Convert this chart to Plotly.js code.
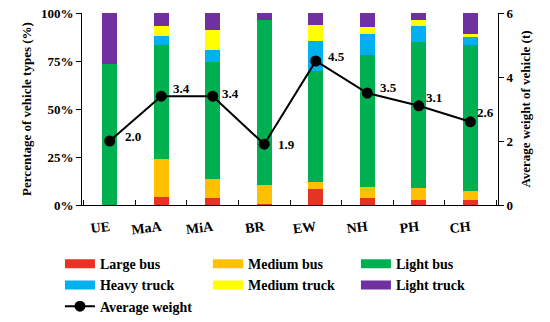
<!DOCTYPE html>
<html><head><meta charset="utf-8">
<script src="https://cdn.plot.ly/plotly-3.0.1.min.js"></script>
<style>html,body{margin:0;padding:0;background:#fff}#c{width:550px;height:322px}</style>
</head><body><div id="c"></div>
<script>
const categories = ['UE','MaA','MiA','BR','EW','NH','PH','CH'];
const largeBus    = [0.0, 4.2, 3.5, 0.7, 8.3, 3.5, 2.4, 2.4];
const mediumBus   = [0.0,19.8,10.1, 9.7, 3.5, 6.1, 6.6, 4.9];
const lightBus    = [73.4,59.1,60.8,86.1,57.8,68.3,75.7,76.2];
const heavyTruck  = [0.0, 4.7, 6.3, 0.0,15.6,11.1, 8.3, 4.0];
const mediumTruck = [0.0, 5.2,10.3, 0.0, 8.7, 3.5, 3.2, 1.7];
const lightTruck  = [26.6, 7.0, 9.0, 3.5, 6.1, 7.5, 3.8,10.8];
const avgWeight   = [2.0, 3.4, 3.4, 1.9, 4.5, 3.5, 3.1, 2.6];
const seriesNames = ['Large bus','Medium bus','Light bus','Heavy truck','Medium truck','Light truck'];
const pctTicks    = [0, 25, 50, 75, 100];
const pctTickText = ['0%','25%','50%','75%','100%'];
const wTicks      = [0, 2, 4, 6];
const seriesVals  = [largeBus, mediumBus, lightBus, heavyTruck, mediumTruck, lightTruck];
const colors = ['#E63323','#FFC000','#00B050','#00B0F0','#FFFF00','#7030A0'];
const labelShift = [[23,5],[20,8],[18,3],[22,0],[21,5],[21,6],[15,8],[15,9]];

const FONT = 'Liberation Serif, Times New Roman, serif';
const traces = [];
seriesVals.forEach((v,i)=>{
  traces.push({type:'bar', x:categories, y:v, name:seriesNames[i], marker:{color:colors[i], line:{width:0}},
    showlegend:false, hoverinfo:'skip'});
});
seriesVals.forEach((v,i)=>{
  traces.push({type:'scatter', mode:'lines', x:[null], y:[null], name:seriesNames[i],
    line:{color:colors[i], width:9}, showlegend:true});
});
traces.push({type:'scatter', mode:'lines+markers', x:categories, y:avgWeight, yaxis:'y2', name:'Average weight',
  line:{color:'#000', width:2}, marker:{color:'#000', size:11}});

const annotations = categories.map((c,i)=>({
  x:c, y:avgWeight[i], xref:'x', yref:'y2', text:avgWeight[i].toFixed(1), showarrow:false,
  xshift:labelShift[i][0], yshift:labelShift[i][1],
  font:{family:FONT, size:13, color:'#000', weight:'bold'}
}));

const layout = {
  width:550, height:322, margin:{l:82, r:52, t:13, b:117, autoexpand:false},
  paper_bgcolor:'#fff', plot_bgcolor:'#fff',
  barmode:'stack', bargap:0.71,
  font:{family:FONT, size:13, color:'#000', weight:'bold'},
  xaxis:{type:'category', showline:true, linecolor:'#000', linewidth:1, ticks:'inside', ticklen:5,
    tickson:'boundaries', tickcolor:'#000', tickangle:-7, tickfont:{size:14, family:FONT, weight:'bold'},
    ticklabelstandoff:8, showgrid:false, zeroline:false},
  yaxis:{range:[0,100], tickmode:'array', tickvals:pctTicks, ticktext:pctTickText, showline:true, linecolor:'#000', linewidth:1,
    ticks:'outside', ticklen:5, tickcolor:'#000', showgrid:false, zeroline:false,
    title:{text:'Percentage of vehicle types (%)', font:{family:FONT, size:13, weight:'bold'}, standoff:6},
    tickfont:{size:13, family:FONT, weight:'bold'}},
  yaxis2:{overlaying:'y', side:'right', range:[0,6], tickmode:'array', tickvals:wTicks, showline:true, linecolor:'#000', linewidth:1,
    ticks:'outside', ticklen:5, tickcolor:'#000', showgrid:false, zeroline:false,
    title:{text:'Average weight of vehicle (t)', font:{family:FONT, size:13, weight:'bold'}, standoff:8},
    tickfont:{size:13, family:FONT, weight:'bold'}},
  legend:{orientation:'h', traceorder:'normal', x:-0.053, xanchor:'left', y:-0.225, yanchor:'top', entrywidth:103,
    font:{family:FONT, size:14, weight:'bold'}, bgcolor:'rgba(0,0,0,0)'},
  annotations:annotations,
  showlegend:true
};
Plotly.newPlot('c', traces, layout, {displayModeBar:false, staticPlot:true});
</script></body></html>
